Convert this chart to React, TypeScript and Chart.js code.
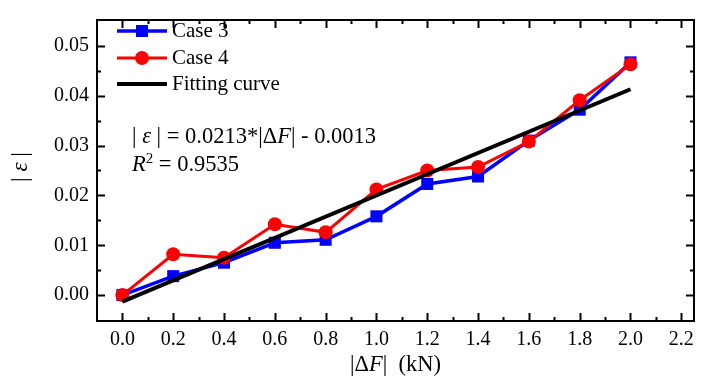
import React, { useEffect, useRef } from 'react';
import { Chart, registerables } from 'chart.js';

Chart.register(...registerables);

// ---- data ----
const forces = [0, 0.2, 0.4, 0.6, 0.8, 1.0, 1.2, 1.4, 1.6, 1.8, 2.0];
const case3 = [0.0, 0.0038, 0.0065, 0.0105, 0.0111, 0.0158, 0.0223, 0.0238, 0.0310, 0.0372, 0.0467];
const case4 = [0.0, 0.0082, 0.0075, 0.0142, 0.0126, 0.0212, 0.0250, 0.0257, 0.0308, 0.0391, 0.0463];
const fitX = [0.0, 2.0];
const fitY = [-0.0013, 0.0413];
const xTickValues = [0, 0.2, 0.4, 0.6, 0.8, 1.0, 1.2, 1.4, 1.6, 1.8, 2.0, 2.2];
const xTickLabels = ['0.0', '0.2', '0.4', '0.6', '0.8', '1.0', '1.2', '1.4', '1.6', '1.8', '2.0', '2.2'];
const yTickValues = [0, 0.01, 0.02, 0.03, 0.04, 0.05];
const yTickLabels = ['0.00', '0.01', '0.02', '0.03', '0.04', '0.05'];
const seriesNames = ['Case 3', 'Case 4', 'Fitting curve'];

const FONT = "'Liberation Serif', 'Times New Roman', serif";
const BLUE = '#0000FF';
const RED = '#FF0000';
const BLACK = '#000000';

type Run = { text: string; italic?: boolean; size?: number; dy?: number };

function runsWidth(ctx: CanvasRenderingContext2D, runs: Run[], base: number) {
  let w = 0;
  for (const r of runs) {
    ctx.font = `${r.italic ? 'italic ' : ''}${r.size ?? base}px ${FONT}`;
    w += ctx.measureText(r.text).width;
  }
  return w;
}

function drawRuns(ctx: CanvasRenderingContext2D, runs: Run[], x: number, y: number, base: number) {
  let cx = x;
  ctx.textAlign = 'left';
  ctx.textBaseline = 'middle';
  for (const r of runs) {
    ctx.font = `${r.italic ? 'italic ' : ''}${r.size ?? base}px ${FONT}`;
    ctx.fillText(r.text, cx, y + (r.dy ?? 0));
    cx += ctx.measureText(r.text).width;
  }
}

const framePlugin = {
  id: 'frameTicks',
  beforeDatasetsDraw(chart: any) {
    const { ctx, chartArea: a, scales } = chart;
    const xs = scales.x;
    const ys = scales.y;
    ctx.save();
    ctx.strokeStyle = BLACK;
    ctx.lineWidth = 2;
    ctx.strokeRect(a.left, a.top, a.right - a.left, a.bottom - a.top);
    const major = 8;
    const minor = 4;
    ctx.beginPath();
    const xMinor: number[] = [];
    for (let i = 0; i < xTickValues.length - 1; i++) xMinor.push((xTickValues[i] + xTickValues[i + 1]) / 2);
    const yMinor: number[] = [];
    for (let i = 0; i < yTickValues.length - 1; i++) yMinor.push((yTickValues[i] + yTickValues[i + 1]) / 2);
    const vx = (vals: number[], len: number) => {
      vals.forEach((v) => {
        const px = Math.round(xs.getPixelForValue(v)) + 0.5;
        ctx.moveTo(px, a.bottom);
        ctx.lineTo(px, a.bottom - len);
        ctx.moveTo(px, a.top);
        ctx.lineTo(px, a.top + len);
      });
    };
    const vy = (vals: number[], len: number) => {
      vals.forEach((v) => {
        const py = Math.round(ys.getPixelForValue(v)) + 0.5;
        ctx.moveTo(a.left, py);
        ctx.lineTo(a.left + len, py);
        ctx.moveTo(a.right, py);
        ctx.lineTo(a.right - len, py);
      });
    };
    vx(xTickValues, major);
    vx(xMinor, minor);
    vy(yTickValues, major);
    vy(yMinor, minor);
    ctx.stroke();
    ctx.restore();
  },
  afterDraw(chart: any) {
    const { ctx, chartArea: a } = chart;
    ctx.save();
    ctx.fillStyle = BLACK;

    // legend
    const rows = [31, 58, 84];
    const colors = [BLUE, RED, BLACK];
    const widths = [3.5, 3, 4];
    rows.forEach((ry, i) => {
      ctx.strokeStyle = colors[i];
      ctx.lineWidth = widths[i];
      ctx.beginPath();
      ctx.moveTo(117, ry);
      ctx.lineTo(167, ry);
      ctx.stroke();
      ctx.fillStyle = colors[i];
      if (i === 0) {
        ctx.fillRect(142 - 6, ry - 6, 12, 12);
      } else if (i === 1) {
        ctx.beginPath();
        ctx.arc(142, ry, 7, 0, Math.PI * 2);
        ctx.fill();
      }
      ctx.fillStyle = BLACK;
      drawRuns(ctx, [{ text: seriesNames[i] }], 172, ry, 21);
    });

    // fit annotation
    drawRuns(
      ctx,
      [
        { text: '| ' },
        { text: 'ε', italic: true },
        { text: ' | = 0.0213*|Δ' },
        { text: 'F', italic: true },
        { text: '| - 0.0013' },
      ],
      132,
      137,
      22.5
    );
    drawRuns(
      ctx,
      [
        { text: 'R', italic: true },
        { text: '2', size: 15, dy: -6 },
        { text: ' = 0.9535' },
      ],
      132,
      165,
      22.5
    );

    // x title
    const xRuns: Run[] = [{ text: '|Δ' }, { text: 'F', italic: true }, { text: '|  (kN)' }];
    const xw = runsWidth(ctx, xRuns, 22.5);
    drawRuns(ctx, xRuns, (a.left + a.right) / 2 - xw / 2, 365, 22.5);

    // y title
    const yRuns: Run[] = [{ text: '| ' }, { text: 'ε', italic: true }, { text: ' |' }];
    const yw = runsWidth(ctx, yRuns, 23);
    ctx.translate(21, 167);
    ctx.rotate(-Math.PI / 2);
    drawRuns(ctx, yRuns, -yw / 2, 0, 23);
    ctx.restore();
  },
};

export default function App() {
  const canvasRef = useRef<HTMLCanvasElement | null>(null);

  useEffect(() => {
    document.body.style.margin = '0';
    const canvas = canvasRef.current;
    if (!canvas) return;
    const chart = new Chart(canvas, {
      type: 'scatter',
      data: {
        datasets: [
          {
            label: seriesNames[0],
            data: forces.map((x, i) => ({ x, y: case3[i] })),
            showLine: true,
            borderColor: BLUE,
            backgroundColor: BLUE,
            borderWidth: 3.5,
            pointStyle: 'rect',
            pointRadius: 8.5,
            pointBorderWidth: 0,
            order: 3,
          },
          {
            label: seriesNames[1],
            data: forces.map((x, i) => ({ x, y: case4[i] })),
            showLine: true,
            borderColor: RED,
            backgroundColor: RED,
            borderWidth: 3,
            pointStyle: 'circle',
            pointRadius: 7,
            pointBorderWidth: 0,
            order: 2,
          },
          {
            label: seriesNames[2],
            data: fitX.map((x, i) => ({ x, y: fitY[i] })),
            showLine: true,
            borderColor: BLACK,
            backgroundColor: BLACK,
            borderWidth: 4,
            pointRadius: 0,
            order: 1,
          },
        ],
      },
      options: {
        animation: false,
        responsive: true,
        maintainAspectRatio: false,
        layout: { padding: { left: 0, top: 6, right: 11, bottom: 0 } },
        plugins: { legend: { display: false }, tooltip: { enabled: false } },
        scales: {
          x: {
            type: 'linear',
            min: -0.1,
            max: 2.25,
            grid: { display: false, drawTicks: false },
            border: { display: false },
            afterBuildTicks: (s: any) => {
              s.ticks = xTickValues.map((v) => ({ value: v }));
            },
            afterFit: (s: any) => {
              s.height = 63;
            },
            ticks: {
              autoSkip: false,
              maxRotation: 0,
              padding: 7,
              color: BLACK,
              font: { family: FONT, size: 20 },
              callback: (_v: any, i: number) => xTickLabels[i],
            },
          },
          y: {
            type: 'linear',
            min: -0.0052,
            max: 0.0552,
            grid: { display: false, drawTicks: false },
            border: { display: false },
            afterBuildTicks: (s: any) => {
              s.ticks = yTickValues.map((v) => ({ value: v }));
            },
            afterFit: (s: any) => {
              s.width = 97;
            },
            ticks: {
              autoSkip: false,
              padding: 8,
              color: BLACK,
              font: { family: FONT, size: 20 },
              callback: (_v: any, i: number) => yTickLabels[i],
            },
          },
        },
      },
      plugins: [framePlugin],
    });
    return () => chart.destroy();
  }, []);

  return (
    <div style={{ position: 'fixed', left: 0, top: 0, width: 705, height: 384, background: '#fff' }}>
      <canvas ref={canvasRef} />
    </div>
  );
}
